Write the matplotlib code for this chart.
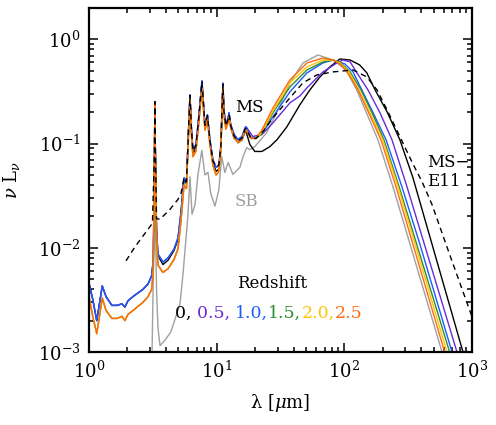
import matplotlib
matplotlib.use("Agg")
import matplotlib.pyplot as plt
import numpy as np
from matplotlib.offsetbox import TextArea, HPacker, AnnotationBbox
from matplotlib.ticker import LogLocator, NullFormatter

plt.rcParams['font.family'] = ['DejaVu Serif']
plt.rcParams['mathtext.fontset'] = 'dejavuserif'

# ---------------- data (wavelength in micron, nu L_nu normalised) -------------
mir_lam = [1.00, 1.07, 1.15, 1.27, 1.36, 1.51, 1.66, 1.81, 1.91, 2.02, 2.21, 2.65,
           2.90, 3.10, 3.19, 3.26, 3.28, 3.31, 3.38, 3.47, 3.80, 4.16, 4.63, 4.98,
           5.25, 5.55, 5.80, 6.02, 6.18, 6.35, 6.52, 6.88, 7.27, 7.67, 8.09, 8.47,
           8.86, 9.35, 9.89, 10.4, 10.8, 11.0, 11.2, 11.4, 11.8, 12.3, 12.5, 12.9,
           13.7, 14.7, 15.8, 16.7, 17.0]
# MS template, z = 0 (mid-IR part)
mir_z0 = [0.0046, 0.0032, 0.0020, 0.0043, 0.0034, 0.0028, 0.0028, 0.0029, 0.0027, 0.0031,
          0.0034, 0.0040, 0.0045, 0.0054, 0.0078, 0.088, 0.252, 0.088, 0.0148, 0.0084,
          0.0069, 0.0076, 0.0094, 0.0120, 0.021, 0.046, 0.041, 0.134, 0.290, 0.132,
          0.080, 0.090, 0.185, 0.395, 0.145, 0.185, 0.103, 0.066, 0.054, 0.057,
          0.092, 0.205, 0.375, 0.205, 0.145, 0.170, 0.192, 0.145, 0.115, 0.102,
          0.108, 0.130, 0.130]
# MS templates, z = 0.5 and 1.0 (mid-IR part)
mir_z05_10 = [0.0046, 0.0032, 0.0020, 0.0043, 0.0034, 0.0028, 0.0028, 0.0029, 0.0027, 0.0031,
              0.0034, 0.0040, 0.0045, 0.0054, 0.0078, 0.088, 0.252, 0.088, 0.0151, 0.0087,
              0.0073, 0.0080, 0.0097, 0.0125, 0.022, 0.047, 0.043, 0.136, 0.293, 0.136,
              0.088, 0.098, 0.189, 0.400, 0.152, 0.189, 0.109, 0.070, 0.059, 0.062,
              0.098, 0.211, 0.380, 0.211, 0.152, 0.177, 0.198, 0.152, 0.122, 0.109,
              0.117, 0.142, 0.145]
# MS templates, z = 1.5, 2.0 and 2.5 (mid-IR part)
mir_z15_25 = [0.0034, 0.0022, 0.0015, 0.0033, 0.0025, 0.0021, 0.0021, 0.0022, 0.0020, 0.0023,
              0.0025, 0.0030, 0.0034, 0.0040, 0.0060, 0.080, 0.235, 0.080, 0.0120, 0.0068,
              0.0058, 0.0063, 0.0077, 0.0098, 0.018, 0.040, 0.037, 0.120, 0.270, 0.120,
              0.075, 0.085, 0.165, 0.350, 0.135, 0.170, 0.097, 0.062, 0.050, 0.054,
              0.088, 0.190, 0.340, 0.190, 0.138, 0.160, 0.180, 0.140, 0.113, 0.102,
              0.110, 0.133, 0.135]

# far-IR parts (per redshift)
fir_lam_z0 = [18.2, 19.9, 22.6, 26.1, 29.7, 35.5, 39.5, 44.9, 53.8, 64.4, 77.1, 92.4,
              111, 132, 150, 174, 216, 272, 344, 844, 1000]
fir_z0 = [0.098, 0.084, 0.084, 0.0935, 0.109, 0.145, 0.181, 0.236, 0.328, 0.436, 0.544,
          0.648, 0.634, 0.568, 0.477, 0.328, 0.202, 0.109, 0.0474, 0.00103, 0.00051]

fir_lam_z05 = [19.2, 22.6, 27.6, 37.5, 44.9, 51, 68, 87.5, 97.5, 111, 125.6, 153, 190,
               236, 309, 757, 1000]
fir_z05 = [0.117, 0.122, 0.158, 0.246, 0.287, 0.343, 0.487, 0.594, 0.634, 0.607, 0.477,
           0.328, 0.198, 0.109, 0.0388, 0.00103, 0.000344]

fir_lam_z10 = [18.6, 20.3, 22.6, 25.2, 27.6, 37.5, 51, 68, 81.5, 101, 117, 137, 171,
               212, 282, 391, 692, 1000]
fir_z10 = [0.114, 0.114, 0.125, 0.152, 0.181, 0.314, 0.477, 0.594, 0.634, 0.581, 0.487,
           0.328, 0.189, 0.109, 0.0388, 0.0108, 0.00103, 0.000236]

fir_lam_z15 = [18.6, 20.3, 22.6, 27.6, 37.5, 51, 68, 81.5, 92.4, 111, 135, 167.5, 204,
               268, 663, 1000]
fir_z15 = [0.112, 0.112, 0.124, 0.198, 0.350, 0.509, 0.607, 0.634, 0.607, 0.487, 0.328,
           0.189, 0.109, 0.0388, 0.00103, 0.000198]

fir_lam_z20 = [18.6, 20.3, 22.6, 27.6, 37.5, 51, 68, 81.5, 92.4, 108.6, 130, 161.5, 200,
               263, 632, 1000]
fir_z20 = [0.112, 0.112, 0.128, 0.206, 0.383, 0.544, 0.634, 0.634, 0.594, 0.487, 0.328,
           0.189, 0.109, 0.0388, 0.00103, 0.000163]

fir_lam_z25 = [18.6, 20.3, 22.6, 27.6, 37.5, 51, 68, 81.5, 92.4, 106.7, 128, 159, 193.5,
               253.6, 606, 1000]
fir_z25 = [0.112, 0.113, 0.135, 0.220, 0.409, 0.594, 0.663, 0.634, 0.581, 0.477, 0.328,
           0.185, 0.109, 0.0388, 0.00103, 0.00014]

# Starburst template
sb_lam = [3.11, 3.26, 3.28, 3.31, 3.38, 3.47, 3.6, 3.94, 4.39, 4.8, 5.16, 5.45, 5.74,
          5.95, 6.18, 6.41, 6.77, 7.13, 7.65, 8.09, 8.55, 9.0, 9.7, 10.4, 10.95, 11.6,
          12.3, 13.4, 15.2, 16.1, 17.2, 18.2, 19.9, 24.6, 29.5, 37.5, 47.4, 62.2, 81.5,
          103, 125, 183, 240, 578, 1000]
sb_val = [0.0008, 0.030, 0.045, 0.020, 0.0040, 0.0017, 0.00115, 0.0013, 0.00157, 0.0022,
          0.0029, 0.0056, 0.012, 0.020, 0.048, 0.021, 0.026, 0.050, 0.086, 0.050, 0.053,
          0.033, 0.0251, 0.036, 0.0751, 0.0528, 0.0659, 0.0506, 0.059, 0.0751, 0.0916,
          0.0877, 0.0935, 0.127, 0.198, 0.383, 0.594, 0.708, 0.634, 0.509, 0.328, 0.109,
          0.0388, 0.00103, 0.000115]

# MS template of Elbaz et al. 2011
e11_lam = [1.95, 2.29, 2.75, 3.14, 3.26, 3.28, 3.31, 3.38, 3.6, 4.31, 4.98, 5.25, 5.55,
           5.80, 6.02, 6.18, 6.35, 6.52, 6.88, 7.27, 7.67, 8.09, 8.47, 8.86, 9.35, 9.89,
           10.4, 10.8, 11.0, 11.2, 11.4, 11.8, 12.3, 12.5, 12.9, 13.7, 14.7, 15.8, 16.7,
           17.0, 18.6, 20.3, 23.0, 27.6, 37.5, 47.4, 61, 81.5, 117, 150, 180, 216, 272,
           344, 405, 485, 671, 1000]
e11_val = [0.0075, 0.0102, 0.0138, 0.0172, 0.088, 0.252, 0.088, 0.019, 0.0188, 0.0234,
           0.0292, 0.033, 0.047, 0.043, 0.136, 0.290, 0.136, 0.085, 0.095, 0.185, 0.390,
           0.150, 0.185, 0.105, 0.068, 0.060, 0.062, 0.095, 0.205, 0.370, 0.205, 0.148,
           0.172, 0.190, 0.148, 0.118, 0.106, 0.113, 0.138, 0.140, 0.112, 0.112, 0.130,
           0.177, 0.275, 0.383, 0.456, 0.487, 0.509, 0.436, 0.328, 0.211, 0.117, 0.064,
           0.0434, 0.0262, 0.0085, 0.00218]

redshifts = ['0', '0.5', '1.0', '1.5', '2.0', '2.5']
z_colors = ['#000000', '#6a2bd9', '#1a5cff', '#2e8b2e', '#ffc400', '#ff6a10']
sb_color = '#a0a0a0'

# ---------------- figure ----------------
fig = plt.figure(figsize=(4.96, 4.25), dpi=100)
ax = fig.add_axes([89/496, 1 - 352/425, (472-89)/496, (352-8)/425])
ax.set_xscale('log')
ax.set_yscale('log')

lw = 1.0
ax.plot(sb_lam, sb_val, color=sb_color, lw=lw)

mir_sets = [mir_z0, mir_z05_10, mir_z05_10, mir_z15_25, mir_z15_25, mir_z15_25]
fir_lams = [fir_lam_z0, fir_lam_z05, fir_lam_z10, fir_lam_z15, fir_lam_z20, fir_lam_z25]
fir_vals = [fir_z0, fir_z05, fir_z10, fir_z15, fir_z20, fir_z25]
for mv, fl, fv, c in zip(mir_sets, fir_lams, fir_vals, z_colors):
    ax.plot(list(mir_lam) + list(fl), list(mv) + list(fv), color=c, lw=lw)

ax.plot(e11_lam, e11_val, color='black', lw=lw, dashes=(4, 3))

ax.set_xlim(1, 1000)
ax.set_ylim(1e-3, 2)

for sp in ax.spines.values():
    sp.set_linewidth(1.6)
ax.tick_params(which='both', direction='in', top=True, right=True, width=1.1)
ax.tick_params(which='major', length=6.5, labelsize=13, pad=6)
ax.tick_params(which='minor', length=3.6)
ax.xaxis.set_minor_locator(LogLocator(base=10, subs=np.arange(2, 10), numticks=20))
ax.yaxis.set_minor_locator(LogLocator(base=10, subs=np.arange(2, 10), numticks=20))
ax.xaxis.set_minor_formatter(NullFormatter())
ax.yaxis.set_minor_formatter(NullFormatter())

ax.set_xlabel('\u03bb [$\\mu$m]', fontsize=13)
ax.set_ylabel('$\\nu$ L$_\\nu$', fontsize=13)
ax.xaxis.set_label_coords(0.5, -0.115)
ax.yaxis.set_label_coords(-0.175, 0.5)

# annotations
ax.text(13.9, 0.221, 'MS', fontsize=12, color='black', va='center', ha='left')
ax.text(13.9, 0.028, 'SB', fontsize=12, color=sb_color, va='center', ha='left')
ax.text(443, 0.0659, 'MS\u2212', fontsize=12, color='black', va='center', ha='left')
ax.text(443, 0.0432, 'E11', fontsize=12, color='black', va='center', ha='left')
ax.text(27.1, 0.0045, 'Redshift', fontsize=12, color='black', va='center', ha='center')

pieces = []
for i, (z, c) in enumerate(zip(redshifts, z_colors)):
    s = z + (', ' if i < 2 else (',' if i < len(redshifts) - 1 else ''))
    pieces.append(TextArea(s, textprops=dict(color=c, fontsize=12.5)))
row = HPacker(children=pieces, pad=0, sep=0, align='baseline')
ab = AnnotationBbox(row, (25.5, 0.00234), xycoords='data', frameon=False,
                    box_alignment=(0.5, 0.5), pad=0)
ax.add_artist(ab)

fig.savefig('out.png', dpi=100)
